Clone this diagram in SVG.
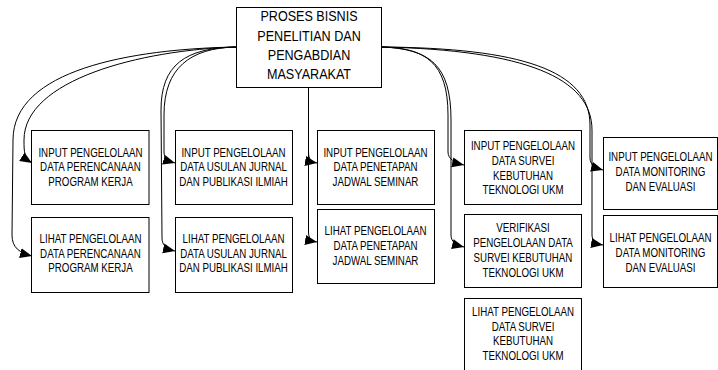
<svg xmlns="http://www.w3.org/2000/svg" width="718" height="370" viewBox="0 0 718 370">
<style>
.box{fill:#fff;stroke:#000;stroke-width:1}
.t{font-family:"Liberation Sans",Arial,sans-serif;font-size:12.5px;fill:#000;text-anchor:middle}
.tt{font-family:"Liberation Sans",Arial,sans-serif;font-size:14px;fill:#000;text-anchor:middle}
.c{fill:none;stroke:#000;stroke-width:1;marker-end:url(#arr)}
</style>
<defs>
<marker id="arr" markerUnits="userSpaceOnUse" markerWidth="13" markerHeight="11" refX="12" refY="5.5" orient="auto">
<path d="M0,0.5 L12,5.5 L0,10.5 z" fill="#000"/>
</marker>
</defs>
<rect width="718" height="370" fill="#fff"/>
<g id="connectors">
<path class="c" d="M236,47 C130,49 13,70 13,140 L12,235 C12,248 20,253 32,256"/>
<path class="c" d="M236,47 C140,50 24,80 24,140 C24,152 24,158 32,163"/>
<path class="c" d="M236,47 C185,48 161,65 161,110 L162,238 C162,245 166,249 175,251"/>
<path class="c" d="M236,47 C190,48 164,68 164,115 L164,152 C164,158 168,161 175,163"/>
<path class="c" d="M308.5,87 L308.5,152 C308.5,159 311,162 317,163"/>
<path class="c" d="M308.5,87 L308.5,232 C308.5,238 311,241 317,242"/>
<path class="c" d="M382,47 C425,48 448,62 448,115 L448,152 C448,159 455,163 464,165"/>
<path class="c" d="M382,47 C430,49 451,65 451,120 L451,235 C451,242 456,245 464,247"/>
<path class="c" d="M382,47 C520,48 590,70 590,125 L590,158 C590,165 596,168 603,170"/>
<path class="c" d="M382,47 C525,50 592,78 592,130 L592,235 C592,241 597,244 603,245"/>
</g>
<g id="root">
<rect class="box" x="236.5" y="7.5" width="145" height="80"/>
<text class="tt" transform="translate(309,0) scale(0.9,1)"><tspan x="0" y="21.5">PROSES BISNIS</tspan><tspan x="0" y="41">PENELITIAN DAN</tspan><tspan x="0" y="60.5">PENGABDIAN</tspan><tspan x="0" y="79">MASYARAKAT</tspan></text>
</g>
<g id="c1a">
<rect class="box" x="31.5" y="130.5" width="117.5" height="74"/>
<text class="t" transform="translate(90.5,0) scale(0.78,1)"><tspan x="0" y="157">INPUT PENGELOLAAN</tspan><tspan x="0" y="171.5">DATA PERENCANAAN</tspan><tspan x="0" y="186">PROGRAM KERJA</tspan></text>
</g>
<g id="c1b">
<rect class="box" x="31.5" y="217.5" width="117.5" height="75"/>
<text class="t" transform="translate(90.5,0) scale(0.78,1)"><tspan x="0" y="243.5">LIHAT PENGELOLAAN</tspan><tspan x="0" y="258">DATA PERENCANAAN</tspan><tspan x="0" y="272.5">PROGRAM KERJA</tspan></text>
</g>
<g id="c2a">
<rect class="box" x="175.5" y="130.5" width="117" height="74"/>
<text class="t" transform="translate(233.5,0) scale(0.78,1)"><tspan x="0" y="157">INPUT PENGELOLAAN</tspan><tspan x="0" y="171.5">DATA USULAN JURNAL</tspan><tspan x="0" y="186">DAN PUBLIKASI ILMIAH</tspan></text>
</g>
<g id="c2b">
<rect class="box" x="175.5" y="217.5" width="117" height="75"/>
<text class="t" transform="translate(233.5,0) scale(0.78,1)"><tspan x="0" y="243.5">LIHAT PENGELOLAAN</tspan><tspan x="0" y="258">DATA USULAN JURNAL</tspan><tspan x="0" y="272.5">DAN PUBLIKASI ILMIAH</tspan></text>
</g>
<g id="c3a">
<rect class="box" x="317.5" y="130.5" width="117" height="74"/>
<text class="t" transform="translate(375.5,0) scale(0.78,1)"><tspan x="0" y="157">INPUT PENGELOLAAN</tspan><tspan x="0" y="171.5">DATA PENETAPAN</tspan><tspan x="0" y="186">JADWAL SEMINAR</tspan></text>
</g>
<g id="c3b">
<rect class="box" x="317.5" y="209.5" width="117" height="74"/>
<text class="t" transform="translate(375.5,0) scale(0.78,1)"><tspan x="0" y="235">LIHAT PENGELOLAAN</tspan><tspan x="0" y="250">DATA PENETAPAN</tspan><tspan x="0" y="265">JADWAL SEMINAR</tspan></text>
</g>
<g id="c4a">
<rect class="box" x="464.5" y="130.5" width="117" height="74"/>
<text class="t" transform="translate(523,0) scale(0.78,1)"><tspan x="0" y="150">INPUT PENGELOLAAN</tspan><tspan x="0" y="165">DATA SURVEI</tspan><tspan x="0" y="180">KEBUTUHAN</tspan><tspan x="0" y="194">TEKNOLOGI UKM</tspan></text>
</g>
<g id="c4b">
<rect class="box" x="464.5" y="214.5" width="117" height="73"/>
<text class="t" transform="translate(523,0) scale(0.78,1)"><tspan x="0" y="232">VERIFIKASI</tspan><tspan x="0" y="247">PENGELOLAAN DATA</tspan><tspan x="0" y="262">SURVEI KEBUTUHAN</tspan><tspan x="0" y="277">TEKNOLOGI UKM</tspan></text>
</g>
<g id="c4c">
<rect class="box" x="464.5" y="298.5" width="117" height="80"/>
<text class="t" transform="translate(523,0) scale(0.78,1)"><tspan x="0" y="316">LIHAT PENGELOLAAN</tspan><tspan x="0" y="330.7">DATA SURVEI</tspan><tspan x="0" y="345">KEBUTUHAN</tspan><tspan x="0" y="360">TEKNOLOGI UKM</tspan></text>
</g>
<g id="c5a">
<rect class="box" x="603.5" y="137.5" width="114" height="72"/>
<text class="t" transform="translate(660.5,0) scale(0.78,1)"><tspan x="0" y="161">INPUT PENGELOLAAN</tspan><tspan x="0" y="176.5">DATA MONITORING</tspan><tspan x="0" y="191.5">DAN EVALUASI</tspan></text>
</g>
<g id="c5b">
<rect class="box" x="603.5" y="215.5" width="114" height="72"/>
<text class="t" transform="translate(660.5,0) scale(0.78,1)"><tspan x="0" y="241.7">LIHAT PENGELOLAAN</tspan><tspan x="0" y="256.7">DATA MONITORING</tspan><tspan x="0" y="271.7">DAN EVALUASI</tspan></text>
</g>
</svg>
